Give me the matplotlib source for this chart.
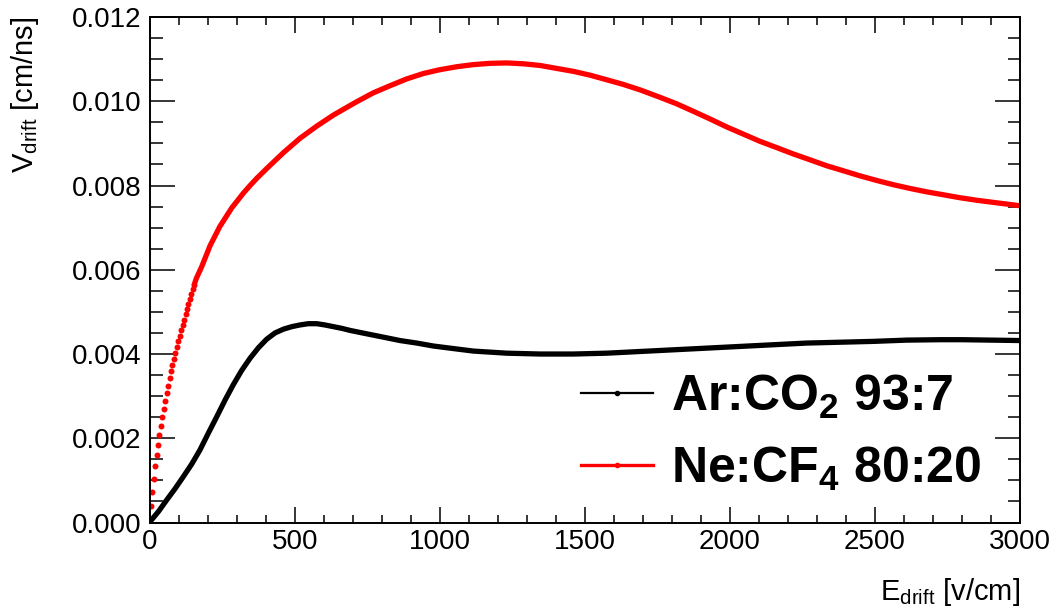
import numpy as np
import matplotlib
matplotlib.use("Agg")
import matplotlib.pyplot as plt
from matplotlib.lines import Line2D
from matplotlib.ticker import MultipleLocator, FormatStrFormatter

plt.rcParams['font.family'] = ['Liberation Sans', 'DejaVu Sans']
plt.rcParams['mathtext.default'] = 'regular'

# drift field [V/cm] and drift velocity [cm/ns]
ar_e = [0, 29, 57, 86, 115, 144, 172, 201, 230, 259, 287, 316, 345, 374, 402,
        431, 460, 489, 517, 546, 575, 603, 632, 661, 690, 747, 805, 862, 920,
        977, 1034, 1115, 1230, 1345, 1460, 1575, 1690, 1805, 1920, 2034, 2149,
        2264, 2379, 2494, 2609, 2724, 2800, 3000]
ar_v = [0.00002, 0.00026, 0.00053, 0.0008, 0.00109, 0.00139, 0.00172, 0.00212,
        0.00251, 0.00291, 0.00327, 0.00361, 0.0039, 0.00415, 0.00435, 0.0045,
        0.00459, 0.00465, 0.00469, 0.00472, 0.00472, 0.00469, 0.00465, 0.00461,
        0.00456, 0.00448, 0.0044, 0.00432, 0.00426, 0.00419, 0.00414, 0.00407,
        0.00402, 0.004, 0.004, 0.00402, 0.00406, 0.0041, 0.00414, 0.00418,
        0.00422, 0.00426, 0.00428, 0.0043, 0.00433, 0.00434, 0.00434, 0.00432]

ne_e = [2.5, 7.5, 12.5, 17.5, 22.5, 27.5, 32.5, 37.5, 42.5, 47.5, 52.5, 57.5,
        62.5, 67.5, 72.5, 77.5, 82.5, 87.5, 92.5, 97.5, 102.5, 107.5, 112.5,
        117.5, 122.5, 127.5, 132.5, 137.5, 142.5, 147.5, 152.5,
        160, 178, 207, 241, 282, 322, 345, 368, 402, 460, 517, 575, 632, 690,
        713, 770, 828, 885, 943, 1000, 1058, 1115, 1172, 1230, 1287, 1345,
        1402, 1460, 1517, 1575, 1632, 1690, 1760, 1816, 1874, 1931, 1989, 2046,
        2103, 2161, 2218, 2276, 2333, 2391, 2448, 2506, 2563, 2621, 2678, 2736,
        2793, 2851, 2908, 3000]
ne_v = [0.00039, 0.00072, 0.00104, 0.00134, 0.0016, 0.00185, 0.00208, 0.00229,
        0.0025, 0.00269, 0.00289, 0.00307, 0.00325, 0.00343, 0.00359, 0.00374,
        0.00389, 0.00402, 0.00416, 0.0043, 0.00443, 0.00456, 0.00468, 0.00481,
        0.00494, 0.00507, 0.00519, 0.00531, 0.00543, 0.00554, 0.00565,
        0.0058, 0.00607, 0.00657, 0.00703, 0.00747, 0.00782, 0.008, 0.00817,
        0.0084, 0.00878, 0.00912, 0.00941, 0.00967, 0.0099, 0.00999, 0.0102,
        0.01037, 0.01053, 0.01066, 0.01075, 0.01082, 0.01087, 0.0109, 0.01091,
        0.01089, 0.01085, 0.01078, 0.01071, 0.01062, 0.01051, 0.0104, 0.01027,
        0.01009, 0.00994, 0.00976, 0.00958, 0.00939, 0.00922, 0.00905, 0.0089,
        0.00875, 0.00861, 0.00847, 0.00835, 0.00823, 0.00812, 0.00802, 0.00793,
        0.00785, 0.00778, 0.00771, 0.00765, 0.0076, 0.00752]

labels = ['Ar:CO$_2$ 93:7', 'Ne:CF$_4$ 80:20']

fig = plt.figure(figsize=(10.55, 6.12), dpi=100)
ax = fig.add_axes([0.1422, 0.1462, 0.8246, 0.826])

ax.plot(ar_e, ar_v, color='black', lw=3.8, solid_capstyle='round',
        solid_joinstyle='round')
# red: separate dots at low field, dense (continuous) beyond
n_dots = 31
ax.plot(ne_e[:n_dots], ne_v[:n_dots], 'o', color='red', ms=4.3, mew=0)
ax.plot(ne_e[n_dots - 1:], ne_v[n_dots - 1:], color='red', lw=3.8,
        solid_capstyle='round', solid_joinstyle='round')

ax.set_xlim(0, 3000)
ax.set_ylim(0, 0.012)
ax.xaxis.set_major_locator(MultipleLocator(500))
ax.xaxis.set_minor_locator(MultipleLocator(100))
ax.yaxis.set_major_locator(MultipleLocator(0.002))
ax.yaxis.set_minor_locator(MultipleLocator(0.0005))
ax.yaxis.set_major_formatter(FormatStrFormatter('%.3f'))

ax.tick_params(axis='both', which='both', direction='in', top=True, right=True,
               width=1.1, labelsize=20)
ax.tick_params(axis='x', which='major', length=11.5, pad=5)
ax.tick_params(axis='x', which='minor', length=5.8)
ax.tick_params(axis='y', which='major', length=18, pad=6)
ax.tick_params(axis='y', which='minor', length=9)
for s in ax.spines.values():
    s.set_linewidth(1.4)

ax.set_xlabel('E$_{drift}$ [v/cm]', fontsize=21, ha='right')
ax.xaxis.set_label_coords(1.0, -0.105)
ax.set_ylabel('V$_{drift}$ [cm/ns]', fontsize=21, ha='right')
ax.yaxis.set_label_coords(-0.125, 1.0)

handles = [Line2D([], [], color='black', lw=1.6, marker='o', ms=3),
           Line2D([], [], color='red', lw=2.4, marker='o', ms=3)]
ax.legend(handles, labels, loc='upper left', bbox_to_anchor=(0.495, 0.296),
          frameon=False, prop={'weight': 'bold', 'size': 36},
          handlelength=1.45, handletextpad=0.35, labelspacing=0.48,
          borderpad=0, borderaxespad=0, markerfirst=True)

fig.savefig('out.png', dpi=100)
